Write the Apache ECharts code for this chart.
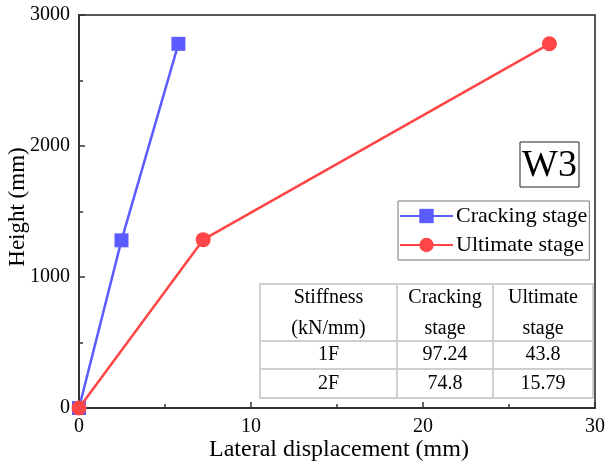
<!DOCTYPE html>
<html><head><meta charset="utf-8">
<script src="https://cdn.jsdelivr.net/npm/echarts@6/dist/echarts.min.js"></script>
<style>html,body{margin:0;padding:0;background:#fff}#c{width:608px;height:465px}</style>
</head><body><div id="c"></div>
<script>
const crackingX = [0, 2.47, 5.78];
const crackingY = [0, 1280, 2780];
const ultimateX = [0, 7.22, 27.35];
const ultimateY = [0, 1285, 2780];
const seriesNames = ['Cracking stage', 'Ultimate stage'];
const tableHeader = [['Stiffness', '(kN/mm)'], ['Cracking', 'stage'], ['Ultimate', 'stage']];
const tableRows = [['1F', '97.24', '43.8'], ['2F', '74.8', '15.79']];
const panelLabel = 'W3';

const F = 'Liberation Serif';
const chart = echarts.init(document.getElementById('c'));

const colX = [260, 397, 493, 593];
const rowY = [284, 341, 369, 398];
const g = [];
g.push({type:'rect', shape:{x:colX[0], y:rowY[0], width:colX[3]-colX[0], height:rowY[3]-rowY[0]}, style:{fill:'#fff', stroke:'#cfcfcf', lineWidth:2}, z:10});
for (let i=1;i<3;i++) g.push({type:'line', shape:{x1:colX[i], y1:rowY[0], x2:colX[i], y2:rowY[3]}, style:{stroke:'#cfcfcf', lineWidth:2}, z:11});
for (let i=1;i<3;i++) g.push({type:'line', shape:{x1:colX[0], y1:rowY[i], x2:colX[3], y2:rowY[i]}, style:{stroke:'#cfcfcf', lineWidth:2}, z:11});
function txt(x, y, t, size, extra) {
  return Object.assign({type:'text', x:x, y:y, z:12, style:{text:t, fill:'#000', fontFamily:F, fontSize:size, align:'center', verticalAlign:'middle'}}, extra||{});
}
tableHeader.forEach((h, c) => {
  const cx = (colX[c]+colX[c+1])/2;
  h.forEach((t, k) => g.push(txt(cx, 298+k*31, t, 20)));
});
tableRows.forEach((r, ri) => {
  r.forEach((t, c) => {
    const cx = (colX[c]+colX[c+1])/2;
    g.push(txt(cx, (rowY[ri+1]+rowY[ri+2])/2, t, 20));
  });
});
g.push({type:'rect', shape:{x:520, y:142, width:59, height:45}, style:{fill:'#fff', stroke:'#222', lineWidth:1}, z:10});
g.push(txt(549.5, 166, panelLabel, 38));
g.push(txt(18, 207, 'Height (mm)', 23, {rotation:Math.PI/2}));
g.push(txt(339, 450, 'Lateral displacement (mm)', 24));

chart.setOption({
  animation:false,
  grid:{left:79, right:10, top:15, bottom:57, show:true, borderColor:'#222', borderWidth:1.5},
  legend:{
    left:398, top:201, orient:'vertical', itemWidth:53, itemHeight:18, itemGap:7,
    borderColor:'#777', borderWidth:1, padding:[4,2,4,1],
    textStyle:{fontFamily:F, fontSize:22, color:'#000', padding:[0,0,0,-2]},
    data:seriesNames
  },
  xAxis:{type:'value', min:0, max:30, interval:10,
    axisLine:{show:true, lineStyle:{color:'#333', width:2}},
    axisTick:{show:true, inside:true, length:6, lineStyle:{color:'#333', width:1.5}},
    minorTick:{show:true, splitNumber:2, length:4, lineStyle:{color:'#333', width:1.5}},
    splitLine:{show:false},
    axisLabel:{fontFamily:F, fontSize:20, color:'#000', margin:9, formatter:v=>String(v)}
  },
  yAxis:{type:'value', min:0, max:3000, interval:1000,
    axisLine:{show:true, lineStyle:{color:'#333', width:2}},
    axisTick:{show:true, inside:true, length:6, lineStyle:{color:'#333', width:1.5}},
    minorTick:{show:true, splitNumber:2, length:4, lineStyle:{color:'#333', width:1.5}},
    splitLine:{show:false},
    axisLabel:{fontFamily:F, fontSize:20, color:'#000', margin:9, formatter:v=>String(v)}
  },
  series:[
    {name:seriesNames[0], type:'line', data:crackingX.map((x,i)=>[x, crackingY[i]]),
     symbol:'rect', symbolSize:14, lineStyle:{color:'#5b5bff', width:2.5}, itemStyle:{color:'#5b5bff'}, z:3},
    {name:seriesNames[1], type:'line', data:ultimateX.map((x,i)=>[x, ultimateY[i]]),
     symbol:'circle', symbolSize:15, lineStyle:{color:'#ff4545', width:2.5}, itemStyle:{color:'#ff4545'}, z:4}
  ],
  graphic:g
});
</script></body></html>
